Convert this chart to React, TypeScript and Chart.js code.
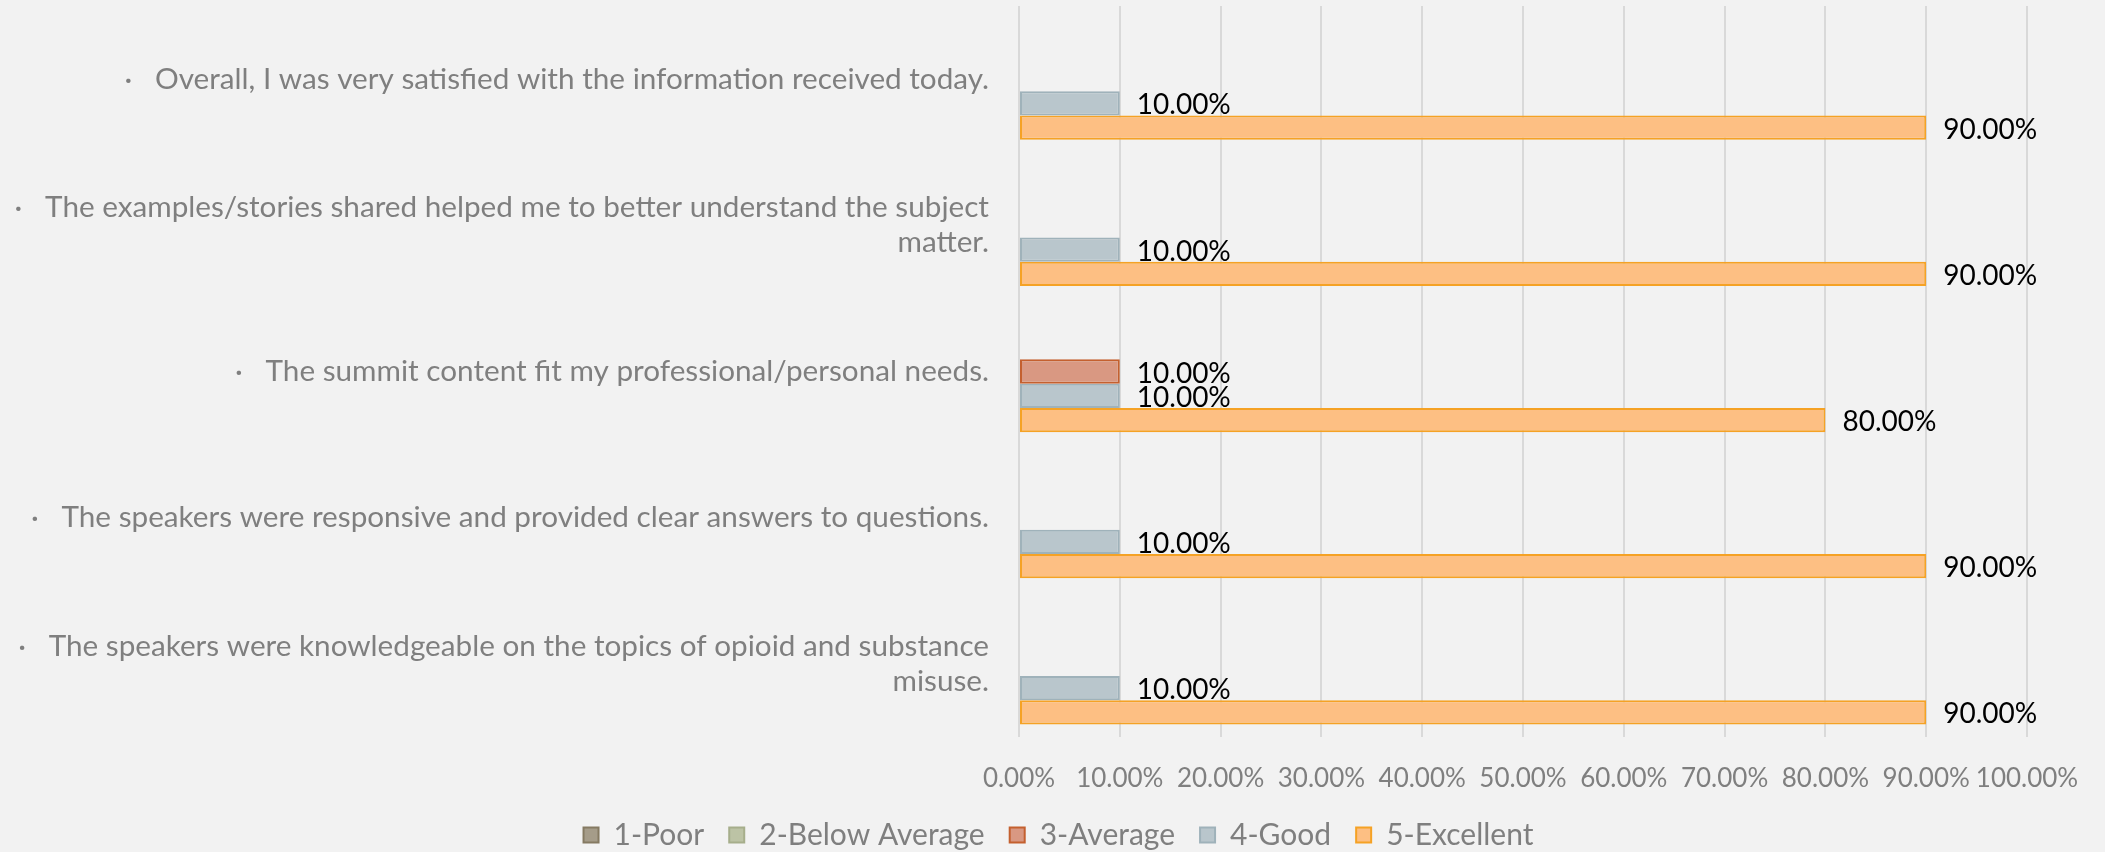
import React, { useEffect, useRef } from "react";
import { Chart, registerables } from "chart.js";

Chart.register(...registerables);

const categories: (string | string[])[] = [
  "·   Overall, I was very satisfied with the information received today.",
  ["·   The examples/stories shared helped me to better understand the subject", "matter."],
  "·   The summit content fit my professional/personal needs.",
  "·   The speakers were responsive and provided clear answers to questions.",
  ["·   The speakers were knowledgeable on the topics of opioid and substance", "misuse."],
];

const seriesNames = ["1-Poor", "2-Below Average", "3-Average", "4-Good", "5-Excellent"];
const poor: (number | null)[] = [null, null, null, null, null];
const belowAverage: (number | null)[] = [null, null, null, null, null];
const average: (number | null)[] = [null, null, 10, null, null];
const good: (number | null)[] = [10, 10, 10, 10, 10];
const excellent: (number | null)[] = [90, 90, 80, 90, 90];

const fills = ["#a59c89", "#bcc3a5", "#d99882", "#b9c6cc", "#fdbf83"];
const borders = ["#857a62", "#a6ae8b", "#c4602f", "#9fb2ba", "#f5a225"];

const xTicks = [0, 10, 20, 30, 40, 50, 60, 70, 80, 90, 100];

const valueLabels = {
  id: "valueLabels",
  afterDatasetsDraw(chart: any) {
    const ctx = chart.ctx;
    ctx.save();
    ctx.font = "28px Lato";
    ctx.fillStyle = "#000000";
    ctx.textAlign = "left";
    ctx.textBaseline = "middle";
    chart.data.datasets.forEach((ds: any, i: number) => {
      const meta = chart.getDatasetMeta(i);
      meta.data.forEach((el: any, j: number) => {
        const v = ds.data[j];
        if (v === null || v === undefined) return;
        ctx.fillText(v.toFixed(2) + "%", el.x + 17, el.y + 2);
      });
    });
    ctx.restore();
  },
};

const legendShift = {
  id: "legendShift",
  afterLayout(chart: any) {
    if (chart.legend) chart.legend.left += 90;
  },
};

export default function App() {
  const ref = useRef<HTMLCanvasElement>(null);
  useEffect(() => {
    const all = [poor, belowAverage, average, good, excellent];
    const chart = new Chart(ref.current!, {
      type: "bar",
      data: {
        labels: categories,
        datasets: all.map((d, i) => ({
          label: seriesNames[i],
          data: d,
          backgroundColor: fills[i],
          borderColor: borders[i],
          borderWidth: 2,
          borderSkipped: false,
          categoryPercentage: 0.83,
          barPercentage: 1,
        })),
      },
      options: {
        indexAxis: "y",
        animation: false,
        responsive: false,
        maintainAspectRatio: false,
        layout: { padding: { left: 0, right: 78, top: 6, bottom: -8 } },
        scales: {
          x: {
            min: 0,
            max: 100,
            afterBuildTicks: (scale: any) => {
              scale.ticks = xTicks.map((v) => ({ value: v }));
            },
            afterFit: (scale: any) => {
              scale.height = 58;
              scale.paddingLeft = 0;
              scale.paddingRight = 0;
            },
            ticks: {
              color: "#7f7f7f",
              font: { family: "Lato", size: 26 },
              padding: 26,
              maxRotation: 0,
              autoSkip: false,
              callback: (v: any) => Number(v).toFixed(2) + "%",
            },
            grid: { color: "#d9d9d9", lineWidth: 2, drawTicks: false },
            border: { display: false },
          },
          y: {
            afterFit: (scale: any) => {
              scale.width = 1019;
              scale.paddingTop = 0;
              scale.paddingBottom = 0;
            },
            ticks: {
              color: "#7f7f7f",
              font: { family: "Lato", size: 29.7, lineHeight: 1.18 },
              padding: 30,
              autoSkip: false,
            },
            grid: { display: false, drawTicks: false },
            border: { display: false },
          },
        },
        plugins: {
          legend: {
            position: "bottom",
            labels: {
              color: "#7f7f7f",
              font: { family: "Lato", size: 30 },
              boxWidth: 15,
              boxHeight: 15,
              padding: 25,
            },
          },
          tooltip: { enabled: false },
        },
      },
      plugins: [valueLabels, legendShift],
    } as any);
    return () => chart.destroy();
  }, []);
  return (
    <div style={{ position: "fixed", left: 0, top: 0, width: 2105, height: 852, background: "#f2f2f2" }}>
      <canvas ref={ref} width={2105} height={852} style={{ width: 2105, height: 852 }} />
    </div>
  );
}
